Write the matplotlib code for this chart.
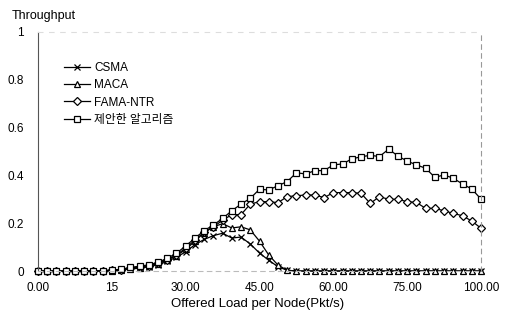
import matplotlib
matplotlib.use("Agg")
from matplotlib import pyplot as plt

plt.rcParams['font.family'] = ['Liberation Sans', 'Noto Sans CJK KR', 'DejaVu Sans']

# 49 load points (index on x axis), labels every 8 points
x_labels = ['0.00', '15', '30.00', '45.00', '60.00', '75.00', '100.00']
y_ticks = [0, 0.2, 0.4, 0.6, 0.8, 1]
y_labels = ['0', '0.2', '0.4', '0.6', '0.8', '1']

csma = [0, 0, 0, 0, 0, 0, 0, 0.001, 0.002, 0.004, 0.008, 0.012, 0.018, 0.026,
        0.04, 0.058, 0.08, 0.11, 0.132, 0.148, 0.158, 0.138, 0.142, 0.113,
        0.075, 0.045, 0.018, 0.003, 0, 0, 0, 0, 0, 0, 0, 0, 0, 0, 0, 0, 0, 0,
        0, 0, 0, 0, 0, 0, 0]
maca = [0, 0, 0, 0, 0, 0, 0, 0.001, 0.002, 0.005, 0.009, 0.014, 0.02, 0.03,
        0.045, 0.064, 0.09, 0.125, 0.16, 0.185, 0.198, 0.18, 0.185, 0.172,
        0.125, 0.067, 0.025, 0.003, 0, 0, 0, 0, 0, 0, 0, 0, 0, 0, 0, 0, 0, 0,
        0, 0, 0, 0, 0, 0, 0]
fama = [0, 0, 0, 0, 0, 0, 0, 0.001, 0.003, 0.006, 0.012, 0.017, 0.023, 0.032,
        0.047, 0.068, 0.095, 0.13, 0.162, 0.185, 0.212, 0.236, 0.236, 0.28,
        0.29, 0.29, 0.286, 0.311, 0.315, 0.318, 0.318, 0.307, 0.328, 0.328,
        0.328, 0.325, 0.283, 0.311, 0.3, 0.3, 0.29, 0.287, 0.262, 0.262,
        0.252, 0.241, 0.231, 0.209, 0.179]
proposed = [0, 0, 0, 0, 0, 0, 0, 0.002, 0.004, 0.007, 0.015, 0.02, 0.026, 0.036,
            0.053, 0.074, 0.105, 0.137, 0.169, 0.192, 0.22, 0.252, 0.28, 0.304,
            0.342, 0.339, 0.357, 0.374, 0.411, 0.406, 0.42, 0.42, 0.444, 0.448,
            0.469, 0.478, 0.484, 0.479, 0.51, 0.481, 0.46, 0.444, 0.43, 0.392,
            0.402, 0.388, 0.364, 0.343, 0.301]

xs = list(range(len(proposed)))

fig = plt.figure(figsize=(5.09, 3.11), dpi=100)
ax = fig.add_axes([38 / 509, 40 / 311, 443 / 509, 239 / 311])

ax.plot(xs, csma, color='black', lw=0.9, marker='x', ms=4.5, mew=0.9,
        label='CSMA', clip_on=False)
ax.plot(xs, maca, color='black', lw=0.9, marker='^', ms=4.8, mew=0.9,
        mfc='white', label='MACA', clip_on=False)
ax.plot(xs, fama, color='black', lw=0.9, marker='D', ms=3.6, mew=0.9,
        mfc='white', label='FAMA-NTR', clip_on=False)
ax.plot(xs, proposed, color='black', lw=0.9, marker='s', ms=5, mew=0.9,
        mfc='white', label='제안한 알고리즘', clip_on=False)

ax.set_xlim(0, 48)
ax.set_ylim(0, 1)
ax.set_xticks(range(0, 49, 8))
ax.set_xticklabels(x_labels, fontsize=8.5)
ax.set_yticks(y_ticks)
ax.set_yticklabels(y_labels, fontsize=8.5)
ax.tick_params(axis='x', length=0, pad=8)
ax.tick_params(axis='y', length=0, pad=10)

ax.spines['left'].set_color('#555555')
ax.spines['left'].set_linewidth(0.8)
ax.spines['bottom'].set_linestyle((0, (4, 4)))
ax.spines['bottom'].set_color('#bbbbbb')
ax.spines['top'].set_linestyle((0, (4, 6)))
ax.spines['top'].set_color('#dddddd')
ax.spines['right'].set_linestyle((0, (4, 4)))
ax.spines['right'].set_color('#999999')

fig.text(258 / 509, 1 - 304 / 311, 'Offered Load per Node(Pkt/s)',
         fontsize=9.5, ha='center', va='center')
fig.text(12 / 509, 1 - 16 / 311, 'Throughput', fontsize=9, va='center')

ax.legend(loc='upper left', bbox_to_anchor=(0.0587, 0.875), frameon=False,
          borderaxespad=0, borderpad=0, fontsize=8.5, handlelength=2.2,
          handletextpad=0.35, labelspacing=0.45)

fig.savefig('out.png', dpi=100)
